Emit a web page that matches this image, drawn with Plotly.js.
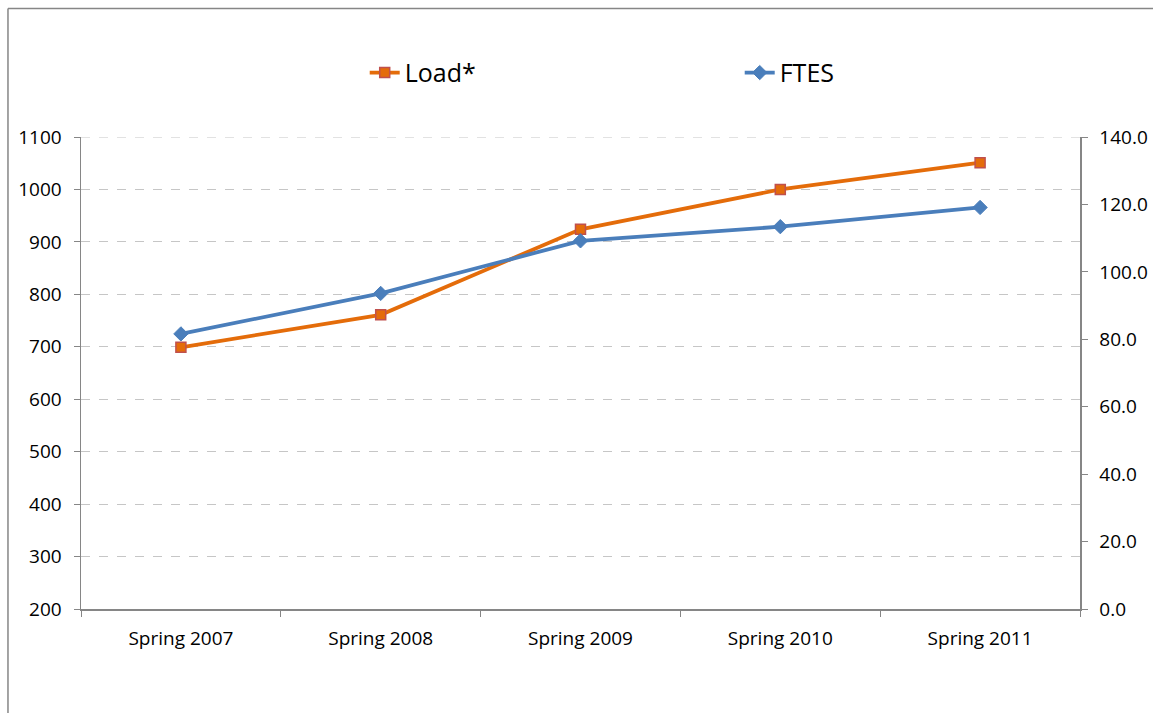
<!DOCTYPE html>
<html>
<head>
<meta charset="utf-8">
<script src="https://cdn.plot.ly/plotly-3.0.1.min.js"></script>
<style>html,body{margin:0;padding:0;background:#fff;}#chart{width:1153px;height:713px;}</style>
</head>
<body>
<div id="chart"></div>
<script>
const categories = ["Spring 2007", "Spring 2008", "Spring 2009", "Spring 2010", "Spring 2011"];
const loadValues = [699, 761, 924, 1000, 1051];
const ftesValues = [81.6, 93.6, 109.2, 113.4, 119.1];
const leftTicks = [200, 300, 400, 500, 600, 700, 800, 900, 1000, 1100];
const rightTicks = [0, 20, 40, 60, 80, 100, 120, 140];

const FONT = "'Open Sans', 'Noto Sans', sans-serif";
const AXIS = "#868686";

const traces = [
  {
    x: categories, y: loadValues, name: "Load*", type: "scatter", mode: "lines+markers",
    line: {color: "#E46C0A", width: 3.8},
    marker: {symbol: "square", size: 10, color: "#E46C0A", line: {color: "#C0504D", width: 1.5}},
    yaxis: "y"
  },
  {
    x: categories, y: ftesValues, name: "FTES", type: "scatter", mode: "lines+markers",
    line: {color: "#4A7EBB", width: 3.8},
    marker: {symbol: "diamond", size: 11, color: "#4A7EBB", line: {color: "#4A7EBB", width: 1}},
    yaxis: "y2"
  }
];

const layout = {
  width: 1153, height: 713,
  margin: {l: 81, r: 73, t: 137, b: 104, pad: 0},
  paper_bgcolor: "#ffffff", plot_bgcolor: "#ffffff",
  font: {family: FONT, size: 19, color: "#000000"},
  showlegend: true,
  legend: {
    orientation: "h", x: 0.284, xanchor: "left", y: 1.136, yanchor: "middle",
    font: {family: FONT, size: 25, color: "#000000"},
    entrywidth: 330, entrywidthmode: "pixels", bgcolor: "rgba(0,0,0,0)"
  },
  xaxis: {
    type: "category", range: [-0.5, 4.5], tickson: "boundaries",
    ticks: "outside", ticklen: 6, tickcolor: AXIS, tickwidth: 1, ticklabelstandoff: 12,
    showline: true, linecolor: AXIS, linewidth: 1.5, showgrid: false, zeroline: false,
    tickfont: {family: FONT, size: 19, color: "#000"}, fixedrange: true
  },
  yaxis: {
    range: [200, 1100], tickvals: leftTicks, ticktext: leftTicks.map(String),
    ticks: "outside", ticklen: 6, tickcolor: AXIS, tickwidth: 1, ticklabelstandoff: 8,
    showline: true, linecolor: AXIS, linewidth: 1.5,
    showgrid: true, gridcolor: "#C6C6C6", griddash: "dash", gridwidth: 1, zeroline: false,
    tickfont: {family: FONT, size: 19, color: "#000"}
  },
  yaxis2: {
    range: [0, 140], overlaying: "y", side: "right",
    tickvals: rightTicks, ticktext: rightTicks.map(v => v.toFixed(1)),
    ticks: "outside", ticklen: 6, tickcolor: AXIS, tickwidth: 1, ticklabelstandoff: 8,
    showline: true, linecolor: AXIS, linewidth: 1.5, showgrid: false, zeroline: false,
    tickfont: {family: FONT, size: 19, color: "#000"}
  },
  shapes: [
    {type: "line", xref: "paper", yref: "y", x0: 0, x1: 1, y0: 1100, y1: 1100, layer: "below",
     line: {color: "#C6C6C6", width: 1, dash: "dash"}},
    {type: "line", xref: "paper", yref: "paper", x0: -0.0731, x1: -0.0731, y0: -0.3, y1: 1.2722,
     line: {color: AXIS, width: 1.5}},
    {type: "line", xref: "paper", yref: "paper", x0: -0.0731, x1: 1.2, y0: 1.2722, y1: 1.2722,
     line: {color: AXIS, width: 1.5}}
  ]
};

Plotly.newPlot("chart", traces, layout, {displayModeBar: false, staticPlot: true});
</script>
</body>
</html>
